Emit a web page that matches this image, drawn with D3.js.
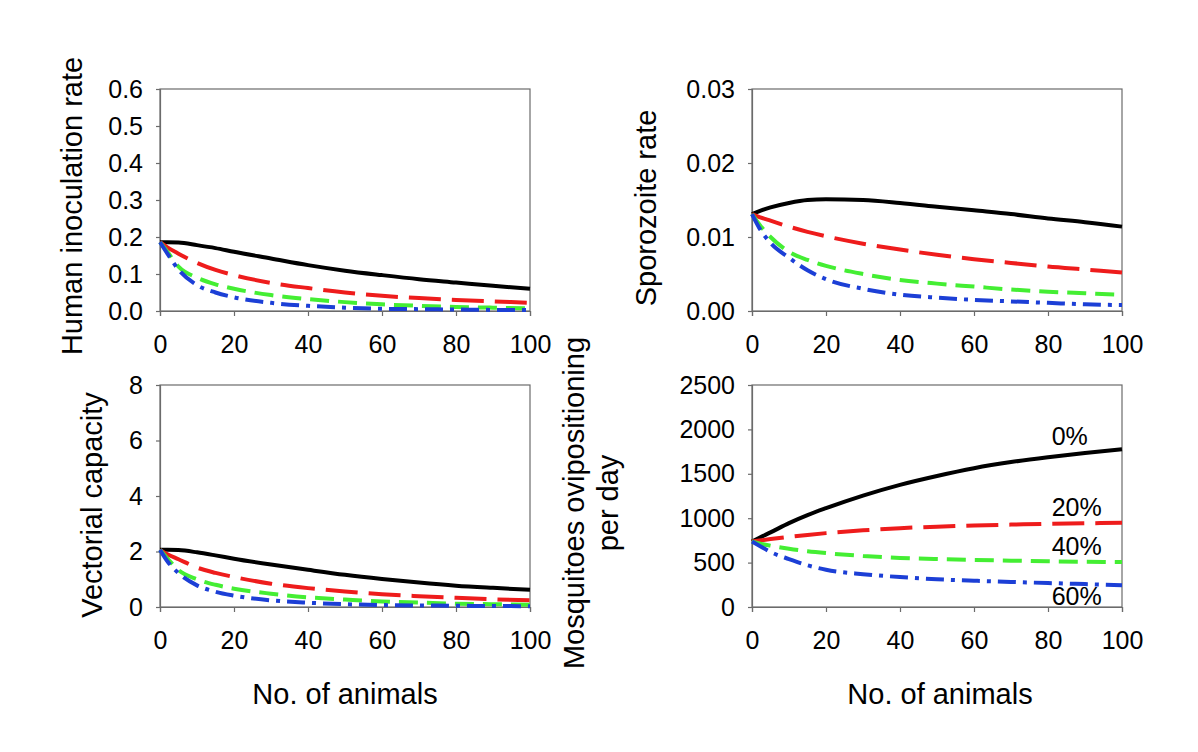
<!DOCTYPE html>
<html>
<head>
<meta charset="utf-8">
<script src="https://cdn.jsdelivr.net/npm/d3@7"></script>
<style>
  html, body { margin: 0; padding: 0; background: #ffffff; }
  svg text { font-family: "Liberation Sans", Arial, sans-serif; fill: #000; }
</style>
</head>
<body>
<svg id="chart" width="1198" height="752"></svg>
<script>
// ---------------- data ----------------
const animals = [0, 2, 5, 10, 15, 20, 30, 40, 50, 60, 70, 80, 90, 100];
const seriesNames = ["0%", "20%", "40%", "60%"];
const xTicks = [0, 20, 40, 60, 80, 100];

// Human inoculation rate
const hir0  = [0.186, 0.186, 0.185, 0.178, 0.170, 0.160, 0.142, 0.124, 0.109, 0.097, 0.086, 0.077, 0.068, 0.060];
const hir20 = [0.186, 0.172, 0.155, 0.130, 0.111, 0.097, 0.076, 0.062, 0.050, 0.041, 0.035, 0.030, 0.026, 0.022];
const hir40 = [0.186, 0.160, 0.120, 0.090, 0.072, 0.060, 0.043, 0.032, 0.024, 0.018, 0.014, 0.011, 0.009, 0.007];
const hir60 = [0.186, 0.155, 0.112, 0.070, 0.050, 0.037, 0.022, 0.014, 0.009, 0.006, 0.005, 0.004, 0.003, 0.003];
const hirTicks = [0.0, 0.1, 0.2, 0.3, 0.4, 0.5, 0.6];

// Sporozoite rate
const sr0  = [0.0131, 0.0135, 0.0140, 0.0146, 0.0150, 0.0151, 0.0150, 0.0146, 0.0141, 0.0136, 0.0131, 0.0125, 0.0120, 0.0114];
const sr20 = [0.0131, 0.0127, 0.0122, 0.0114, 0.0107, 0.0101, 0.0091, 0.0083, 0.0076, 0.0070, 0.0065, 0.0060, 0.0056, 0.0052];
const sr40 = [0.0131, 0.0117, 0.0100, 0.0080, 0.0069, 0.0061, 0.0050, 0.0042, 0.0037, 0.0033, 0.0029, 0.0026, 0.0024, 0.0022];
const sr60 = [0.0131, 0.0112, 0.0092, 0.0072, 0.0055, 0.0043, 0.0030, 0.0022, 0.0018, 0.0015, 0.0013, 0.0011, 0.0009, 0.0008];
const srTicks = [0.00, 0.01, 0.02, 0.03];

// Vectorial capacity
const vc0  = [2.06, 2.06, 2.05, 1.97, 1.86, 1.74, 1.53, 1.34, 1.16, 1.01, 0.88, 0.77, 0.69, 0.62];
const vc20 = [2.06, 1.90, 1.72, 1.42, 1.23, 1.08, 0.84, 0.68, 0.56, 0.46, 0.39, 0.33, 0.28, 0.24];
const vc40 = [2.06, 1.75, 1.33, 1.00, 0.80, 0.66, 0.48, 0.35, 0.27, 0.20, 0.16, 0.12, 0.10, 0.08];
const vc60 = [2.06, 1.65, 1.22, 0.78, 0.55, 0.41, 0.24, 0.155, 0.10, 0.07, 0.055, 0.045, 0.035, 0.03];
const vcTicks = [0, 2, 4, 6, 8];

// Mosquitoes ovipositioning per day
const mo0  = [738, 780, 840, 945, 1035, 1113, 1255, 1376, 1476, 1563, 1632, 1687, 1735, 1777];
const mo20 = [738, 748, 765, 790, 812, 832, 863, 888, 905, 918, 928, 937, 943, 948];
const mo40 = [738, 715, 690, 655, 628, 607, 575, 553, 540, 530, 522, 515, 510, 506];
const mo60 = [738, 690, 620, 540, 470, 420, 370, 337, 312, 296, 282, 270, 258, 245];
const moTicks = [0, 500, 1000, 1500, 2000, 2500];
// label anchors for series names (data coordinates: No. of animals, value)
const moLabelX = [81, 81, 81, 81];
const moLabelY = [1825, 1027, 588, 26];

// ---------------- drawing ----------------
const svg = d3.select("#chart");
const styles = [
  { color: "#000000", dash: null, width: 4 },
  { color: "#ee1c1c", dash: "32,11", width: 4 },
  { color: "#44ee33", dash: "19,9", width: 4 },
  { color: "#1c3fd6", dash: "18,7,4,7", width: 4 }
];

const panels = [
  { title: ["Human inoculation rate"], series: [hir0, hir20, hir40, hir60], ticks: hirTicks, fmt: d3.format(".1f"),
    left: 160, right: 530, top: 89, bottom: 311, titleX: 82, titleY: 206, xTitle: false },
  { title: ["Sporozoite rate"], series: [sr0, sr20, sr40, sr60], ticks: srTicks, fmt: d3.format(".2f"),
    left: 752, right: 1122, top: 89, bottom: 311, titleX: 656, titleY: 208, xTitle: false },
  { title: ["Vectorial capacity"], series: [vc0, vc20, vc40, vc60], ticks: vcTicks, fmt: d3.format("d"),
    left: 160, right: 530, top: 385, bottom: 607, titleX: 102, titleY: 505, xTitle: true, xTitleX: 345 },
  { title: ["Mosquitoes ovipositioning", "per day"], series: [mo0, mo20, mo40, mo60], ticks: moTicks, fmt: d3.format("d"),
    left: 752, right: 1122, top: 385, bottom: 607, titleX: 618, titleY: 503, xTitle: true, xTitleX: 940, labels: true }
];

panels.forEach(p => {
  const x = d3.scaleLinear().domain([0, 100]).range([p.left, p.right]);
  const yMax = p.ticks[p.ticks.length - 1];
  const y = d3.scaleLinear().domain([0, yMax]).range([p.bottom, p.top]);
  const g = svg.append("g");

  // box
  g.append("rect")
    .attr("x", p.left).attr("y", p.top)
    .attr("width", p.right - p.left).attr("height", p.bottom - p.top)
    .attr("fill", "none").attr("stroke", "#6b6b6b").attr("stroke-width", 1.2);

  // axes
  const xAxis = d3.axisBottom(x).tickValues(xTicks).tickSize(5).tickPadding(19).tickFormat(d3.format("d"));
  const yAxis = d3.axisLeft(y).tickValues(p.ticks).tickSize(4).tickPadding(13).tickFormat(p.fmt);
  const gx = g.append("g").attr("transform", `translate(0,${p.bottom})`).call(xAxis);
  const gy = g.append("g").attr("transform", `translate(${p.left},0)`).call(yAxis);
  [gx, gy].forEach(a => {
    a.select(".domain").attr("stroke", "#6b6b6b").attr("stroke-width", 1.2);
    a.selectAll(".tick line").attr("stroke", "#6b6b6b").attr("stroke-width", 1.2);
    a.selectAll(".tick text").attr("font-size", 25).attr("fill", "#000")
      .style("font-family", '"Liberation Sans", Arial, sans-serif');
  });

  // lines
  const line = d3.line().x((d, i) => x(animals[i])).y(d => y(d)).curve(d3.curveMonotoneX);
  p.series.forEach((s, k) => {
    const st = styles[k];
    g.append("path").datum(s)
      .attr("d", line)
      .attr("fill", "none")
      .attr("stroke", st.color)
      .attr("stroke-width", st.width)
      .attr("stroke-dasharray", st.dash)
      .attr("stroke-linejoin", "round");
  });

  // y title
  const t = g.append("text")
    .attr("transform", `translate(${p.titleX},${p.titleY}) rotate(-90)`)
    .attr("text-anchor", "middle")
    .attr("font-size", 29);
  if (p.title.length === 1) {
    t.text(p.title[0]);
  } else {
    t.append("tspan").attr("x", 0).attr("dy", -34).text(p.title[0]);
    t.append("tspan").attr("x", 0).attr("dy", 34).text(p.title[1]);
  }

  // x title
  if (p.xTitle) {
    g.append("text")
      .attr("x", p.xTitleX).attr("y", 704)
      .attr("text-anchor", "middle")
      .attr("font-size", 29)
      .text("No. of animals");
  }

  // series labels
  if (p.labels) {
    seriesNames.forEach((n, k) => {
      g.append("text")
        .attr("x", x(moLabelX[k])).attr("y", y(moLabelY[k]))
        .attr("font-size", 25)
        .text(n);
    });
  }
});
</script>
</body>
</html>
